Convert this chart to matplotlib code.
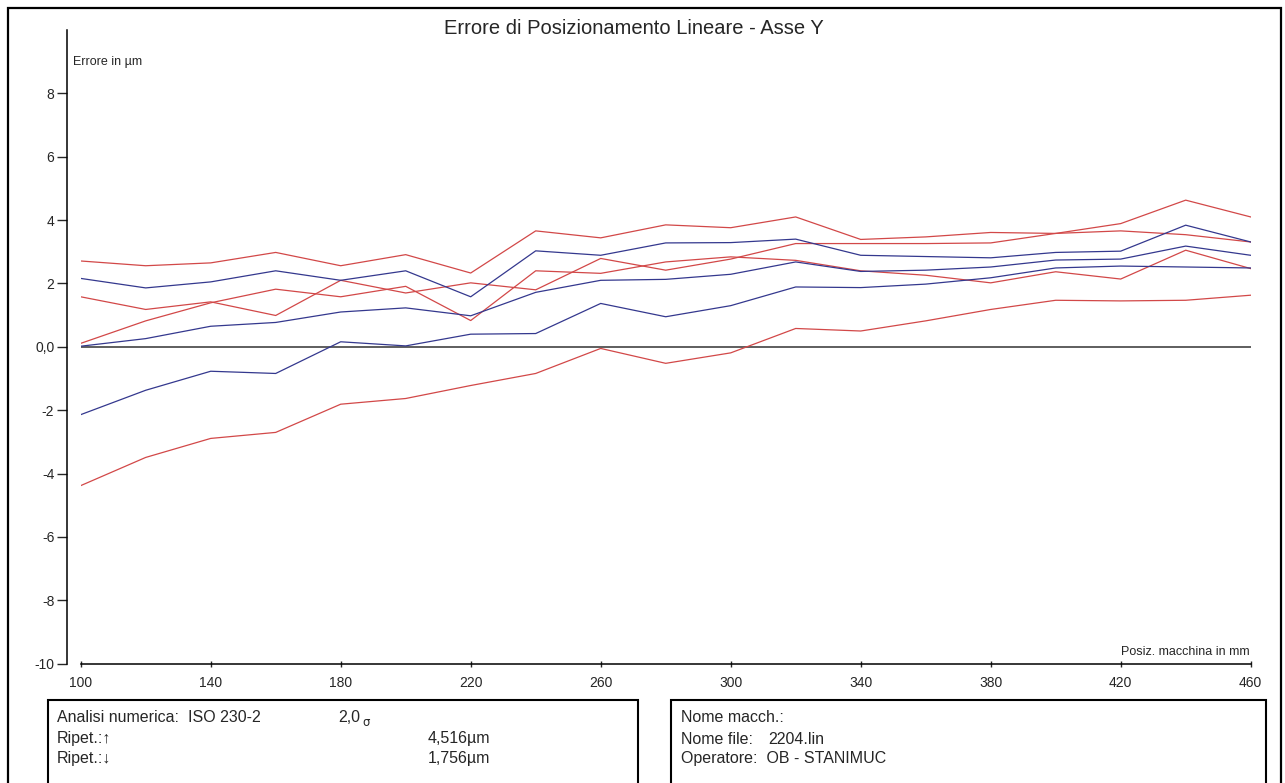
import matplotlib.pyplot as plt
from matplotlib.patches import Rectangle

plt.rcParams['font.family'] = ['Liberation Sans', 'DejaVu Sans']

# machine positions (mm)
positions = [100, 120, 140, 160, 180, 200, 220, 240, 260, 280, 300,
             320, 340, 360, 380, 400, 420, 440, 460]

# error curves (um) - red = backward runs, blue = forward runs
red_upper = [2.71, 2.56, 2.65, 2.98, 2.56, 2.91, 2.33, 3.66, 3.44, 3.85, 3.76,
             4.10, 3.39, 3.47, 3.61, 3.58, 3.89, 4.63, 4.10]
red_mid_a = [1.58, 1.18, 1.42, 0.99, 2.10, 1.70, 2.02, 1.80, 2.79, 2.42, 2.77,
             3.26, 3.26, 3.26, 3.28, 3.58, 3.66, 3.54, 3.31]
red_mid_b = [0.11, 0.82, 1.39, 1.82, 1.58, 1.91, 0.83, 2.40, 2.32, 2.68, 2.84,
             2.73, 2.40, 2.26, 2.02, 2.37, 2.14, 3.05, 2.47]
red_lower = [-4.38, -3.49, -2.89, -2.70, -1.81, -1.63, -1.22, -0.84, -0.05, -0.52, -0.19,
             0.58, 0.50, 0.82, 1.18, 1.47, 1.45, 1.47, 1.63]
blue_upper = [2.16, 1.86, 2.05, 2.40, 2.10, 2.40, 1.58, 3.03, 2.89, 3.28, 3.29,
              3.40, 2.89, 2.85, 2.81, 2.98, 3.02, 3.84, 3.31]
blue_mid = [0.02, 0.26, 0.65, 0.77, 1.10, 1.23, 0.98, 1.72, 2.10, 2.13, 2.29,
            2.68, 2.38, 2.42, 2.52, 2.74, 2.77, 3.18, 2.89]
blue_lower = [-2.14, -1.37, -0.77, -0.84, 0.16, 0.03, 0.40, 0.42, 1.37, 0.95, 1.30,
              1.89, 1.87, 1.98, 2.18, 2.49, 2.55, 2.52, 2.49]

y_ticks = [-10, -8, -6, -4, -2, 0, 2, 4, 6, 8]
x_ticks = [100, 140, 180, 220, 260, 300, 340, 380, 420, 460]

W, H = 1285, 783
RED = '#d24848'
BLUE = '#34388e'
TXT = '#262626'


def fx(px):
    return px / W


def fy(py):
    return 1 - py / H


fig = plt.figure(figsize=(W / 100, H / 100), dpi=100)
ax = fig.add_axes([fx(80.7), fy(663.7), (1250.7 - 80.7) / W, (663.7 - 30) / H])

ax.axhline(0, color='#333333', lw=1.1, zorder=1)
for ys in [red_upper, red_mid_a, red_mid_b, red_lower]:
    ax.plot(positions, ys, color=RED, lw=0.9, zorder=2)
for ys in [blue_upper, blue_mid, blue_lower]:
    ax.plot(positions, ys, color=BLUE, lw=0.9, zorder=3)

ax.set_xlim(100, 460)
ax.set_ylim(-10, 10)
ax.spines['top'].set_visible(False)
ax.spines['right'].set_visible(False)
ax.spines['left'].set_position(('outward', 10))
ax.spines['left'].set_linewidth(1.1)
ax.spines['bottom'].set_linewidth(1.1)

ax.set_yticks(y_ticks)
ax.set_yticklabels(['0,0' if v == 0 else str(v) for v in y_ticks])
ax.set_xticks(x_ticks)
ax.set_xticklabels([str(v) for v in x_ticks])
ax.tick_params(axis='y', direction='out', length=7, width=1, pad=2,
               labelsize=10, colors=TXT)
ax.tick_params(axis='x', direction='inout', length=5, width=1, pad=6,
               labelsize=10, colors=TXT)

# axis captions
fig.text(fx(73), fy(62), 'Errore in µm', fontsize=9, ha='left', va='center', color=TXT)
fig.text(fx(1250), fy(652), 'Posiz. macchina in mm', fontsize=9, ha='right', va='center',
         color=TXT)
fig.text(fx(634), fy(28), 'Errore di Posizionamento Lineare - Asse Y', fontsize=14.5,
         ha='center', va='center', color=TXT)

# outer frame
fig.add_artist(Rectangle((fx(8), fy(800)), fx(1273), (800 - 8) / H, fill=False,
                         ec='black', lw=1.6, transform=fig.transFigure))

# info boxes
fig.add_artist(Rectangle((fx(48), fy(800)), fx(590), 100 / H, fill=False,
                         ec='black', lw=1.5, transform=fig.transFigure))
fig.add_artist(Rectangle((fx(671), fy(800)), fx(595), 100 / H, fill=False,
                         ec='black', lw=1.5, transform=fig.transFigure))

fs = 11.5
fig.text(fx(57), fy(717), 'Analisi numerica:  ISO 230-2', fontsize=fs, va='center', color=TXT)
fig.text(fx(338), fy(717), '2,0', fontsize=fs, va='center', color=TXT)
fig.text(fx(362), fy(722), 'σ', fontsize=8.5, va='center', color=TXT,
         family=['DejaVu Sans'])
fig.text(fx(57), fy(739), 'Ripet.:↑', fontsize=fs, va='center', color=TXT)
fig.text(fx(57), fy(759), 'Ripet.:↓', fontsize=fs, va='center', color=TXT)
fig.text(fx(428), fy(739), '4,516µm', fontsize=fs, va='center', color=TXT)
fig.text(fx(428), fy(759), '1,756µm', fontsize=fs, va='center', color=TXT)

fig.text(fx(681), fy(717), 'Nome macch.:', fontsize=fs, va='center', color=TXT)
fig.text(fx(681), fy(739), 'Nome file:', fontsize=fs, va='center', color=TXT)
fig.text(fx(768), fy(739), '2204.lin', fontsize=fs, va='center', color=TXT)
fig.text(fx(681), fy(759), 'Operatore:  OB - STANIMUC', fontsize=fs, va='center', color=TXT)

fig.savefig('out.png', dpi=100)
